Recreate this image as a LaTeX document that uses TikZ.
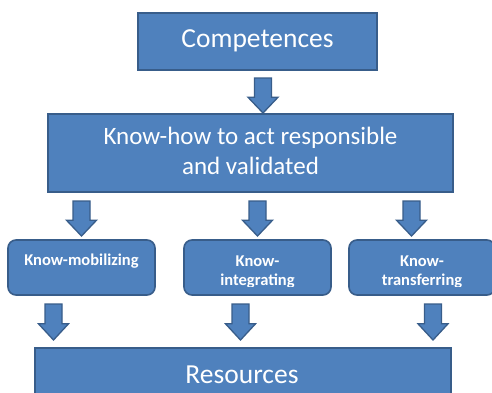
\documentclass[tikz,border=0pt]{standalone}
\usepackage{fontspec}
\setmainfont{Carlito}
\definecolor{boxfill}{HTML}{4F81BD}
\definecolor{boxline}{HTML}{385D8A}
\begin{document}
\begin{tikzpicture}[x=1pt,y=-1pt,
  box/.style={draw=boxline, fill=boxfill, line width=1.6pt, inner sep=0pt},
  rbox/.style={box, rounded corners=8pt},
  lbl/.style={text=white, inner sep=0pt, align=center},
  biglbl/.style={lbl, font=\fontsize{27.5}{33}\selectfont},
  midlbl/.style={lbl, font=\fontsize{25}{30}\selectfont},
  smalllbl/.style={lbl, font=\fontsize{16.5}{19.5}\selectfont\bfseries},
  pics/barrow/.style={code={
    \draw[draw=boxline, fill=boxfill, line width=1.3pt, line join=miter]
      (-8.5,0) -- (8.5,0) -- (8.5,#1*0.55) -- (15,#1*0.55) -- (0,#1)
      -- (-15,#1*0.55) -- (-8.5,#1*0.55) -- cycle;
  }}
]
\clip (0,0) rectangle (492,392);
\fill[white] (0,0) rectangle (492,392);

% boxes
\node[box, minimum width=239pt, minimum height=57pt] (comp) at (257.5,41.5) {};
\node[box, minimum width=405pt, minimum height=78pt] (know) at (250.5,153) {};
\node[rbox, minimum width=147pt, minimum height=55pt] (mob) at (81.5,267.5) {};
\node[rbox, minimum width=147pt, minimum height=55pt] (integ) at (257.5,267.5) {};
\node[rbox, minimum width=146pt, minimum height=55pt] (trans) at (422,267.5) {};
\node[box, minimum width=416pt, minimum height=70pt] (res) at (243,383) {};

% labels
\node[biglbl, anchor=base] at (257.5,47) {Competences};
\node[midlbl] at (250.5,151) {Know-how to act responsible\\and validated};
\node[smalllbl, anchor=base] at (81.5,265) {Know-mobilizing};
\begin{scope}
  \clip (150,240) rectangle (495,286);
  \node[smalllbl] at (257.5,272) {Know-\\integrating};
  \node[smalllbl] at (422,272) {Know-\\transferring};
\end{scope}
\node[biglbl, anchor=base] at (242,383) {Resources};

% block arrows
\pic at (263,78) {barrow=35};
\pic at (81.5,201) {barrow=35};
\pic at (257.5,201) {barrow=35};
\pic at (411.5,201) {barrow=35};
\pic at (53.5,304) {barrow=36};
\pic at (240.5,304) {barrow=36};
\pic at (433,304) {barrow=36};
\end{tikzpicture}
\end{document}
